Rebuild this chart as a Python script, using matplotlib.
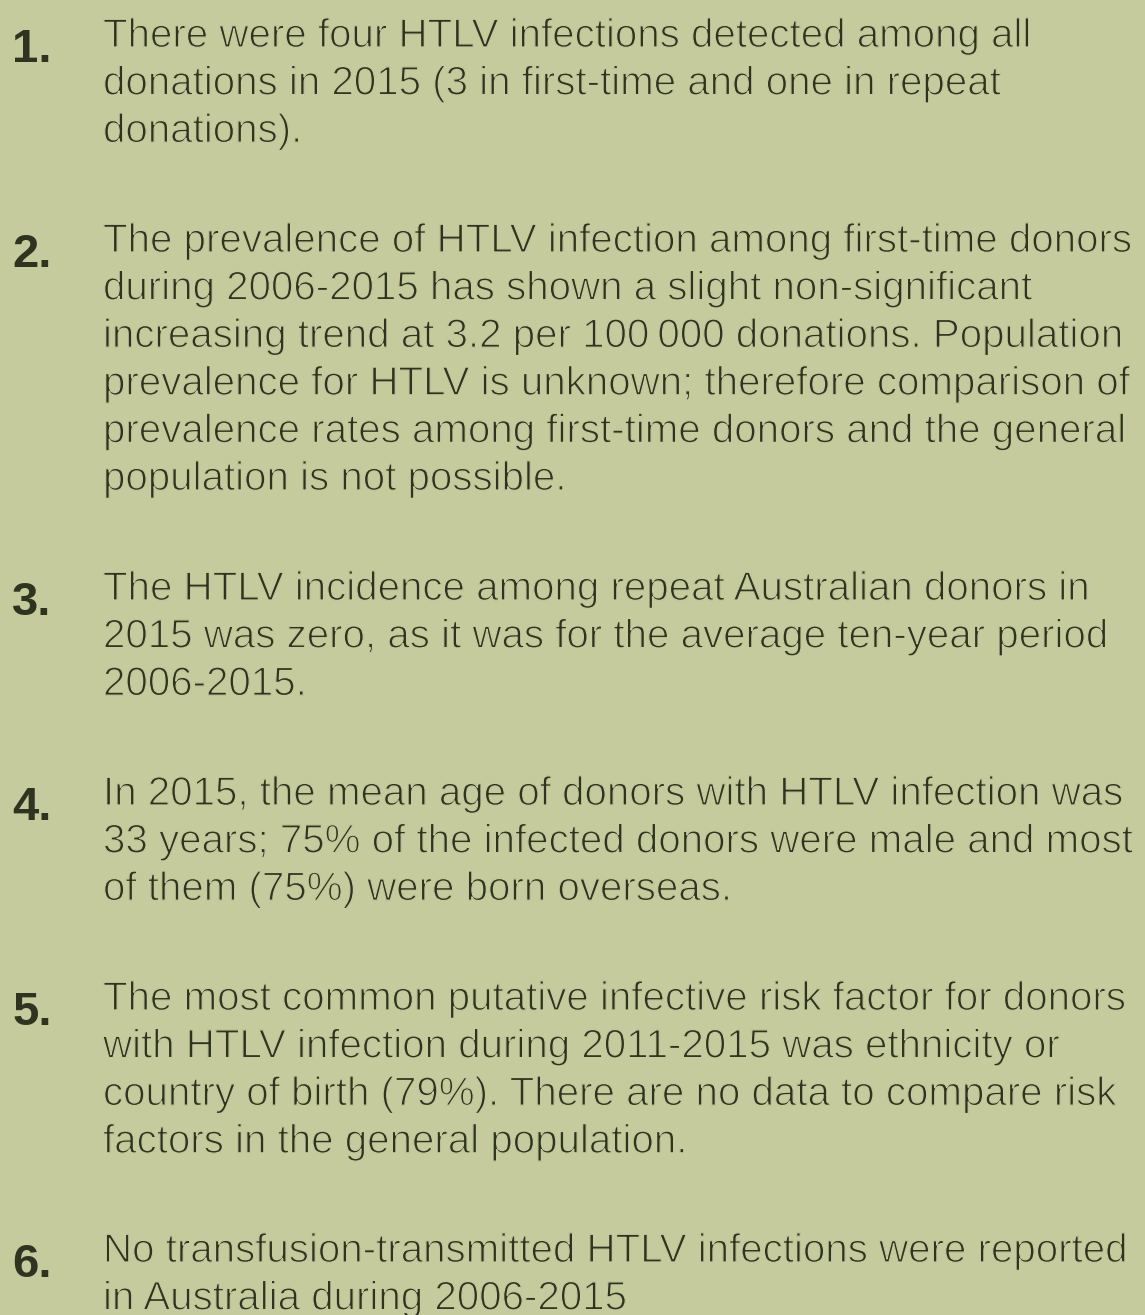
import matplotlib
matplotlib.use("Agg")
import matplotlib.pyplot as plt
import matplotlib.patheffects as pe

# key findings, one list of wrapped lines per point
numbers = ["1.", "2.", "3.", "4.", "5.", "6."]
paragraphs = [
    ["There were four HTLV infections detected among all",
     "donations in 2015 (3 in first-time and one in repeat",
     "donations)."],
    ["The prevalence of HTLV infection among first-time donors",
     "during 2006-2015 has shown a slight non-significant",
     "increasing trend at 3.2 per 100\u2009000 donations. Population",
     "prevalence for HTLV is unknown; therefore comparison of",
     "prevalence rates among first-time donors and the general",
     "population is not possible."],
    ["The HTLV incidence among repeat Australian donors in",
     "2015 was zero, as it was for the average ten-year period",
     "2006-2015."],
    ["In 2015, the mean age of donors with HTLV infection was",
     "33 years; 75% of the infected donors were male and most",
     "of them (75%) were born overseas."],
    ["The most common putative infective risk factor for donors",
     "with HTLV infection during 2011-2015 was ethnicity or",
     "country of birth (79%). There are no data to compare risk",
     "factors in the general population."],
    ["No transfusion-transmitted HTLV infections were reported",
     "in Australia during 2006-2015"],
]

bg = "#c5cb9d"
ink = "#2f3420"
first_baseline = [47, 252, 600, 805, 1010, 1262]
line_gap = 47.6

# the source face is a light grotesque; shave the regular glyphs a little
thin = [pe.Normal(), pe.Stroke(linewidth=0.9, foreground=bg)]

fig = plt.figure(figsize=(11.45, 13.15), dpi=100, facecolor=bg)
ax = fig.add_axes([0, 0, 1, 1])
ax.set_xlim(0, 1145)
ax.set_ylim(1315, 0)
ax.axis("off")

for num, lines, y0 in zip(numbers, paragraphs, first_baseline):
    ax.text(12, y0 + 15, num, fontsize=34, fontweight="bold", color=ink,
            family=["Liberation Sans", "DejaVu Sans"], va="baseline", ha="left")
    for i, line in enumerate(lines):
        ax.text(103, y0 + i * line_gap, line, fontsize=29, color=ink,
                family=["Liberation Sans", "DejaVu Sans"], va="baseline", ha="left",
                path_effects=thin)

fig.savefig("out.png", dpi=100, facecolor=bg)
